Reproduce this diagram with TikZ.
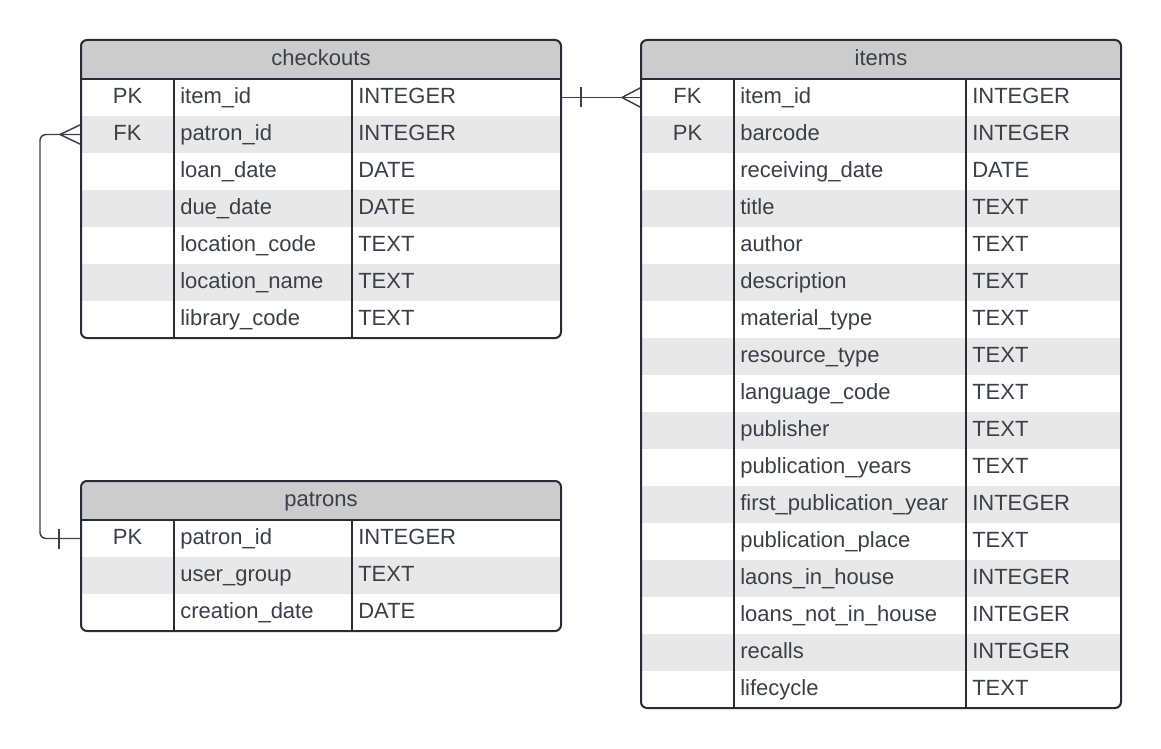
\documentclass[tikz,border=0pt]{standalone}
\usepackage{fontspec}
\setmainfont{Liberation Sans}
\usetikzlibrary{calc}

\definecolor{hdrgray}{RGB}{204,204,204}
\definecolor{rowgray}{RGB}{232,232,232}
\definecolor{edgedark}{RGB}{40,44,51}
\definecolor{txtdark}{RGB}{58,63,72}

\tikzset{
  rowbox/.style={rectangle, inner sep=0pt, outer sep=0pt, minimum width=360pt, minimum height=27.75pt},
  celltxt/.style={inner sep=0pt, text=txtdark, font=\fontsize{16.5}{19}\selectfont, text height=12pt, text depth=3.5pt},
  tblline/.style={draw=edgedark, line width=1.5pt},
  link/.style={draw=txtdark, line width=1.1pt},
}

% #1 name, #2 left, #3 top, #4 number of rows, #5 field column width, #6 title, #7 rows
\newcommand{\erdtable}[7]{%
  \begin{scope}
    \clip[rounded corners=4.5pt] (#2,#3) rectangle ++(480,{39+37*#4});
    \fill[hdrgray] (#2,#3) rectangle ++(480,39);
    \foreach \k/\f/\t [count=\i] in {#7} {
      \ifodd\i\relax \def\rowfill{white}\else \def\rowfill{rowgray}\fi
      \node[rowbox, fill=\rowfill] (#1-\i) at ({#2+240},{#3+39+37*\i-18.5}) {};
      \node[celltxt] at ({#2+46.5},{#3+39+37*\i-18.5}) {\k};
      \node[celltxt, anchor=west] at ({#2+99},{#3+39+37*\i-18.5}) {\f};
      \node[celltxt, anchor=west] at ({#2+99+#5},{#3+39+37*\i-18.5}) {\t};
    }
  \end{scope}
  \draw[tblline] (#2,{#3+39}) -- ++(480,0);
  \draw[tblline] ({#2+93},{#3+39}) -- ++(0,{37*#4});
  \draw[tblline] ({#2+93+#5},{#3+39}) -- ++(0,{37*#4});
  \draw[tblline, rounded corners=4.5pt] (#2,#3) rectangle ++(480,{39+37*#4});
  \node[celltxt] (#1-title) at ({#2+240},{#3+19.5}) {#6};
}

\begin{document}
\begin{tikzpicture}[x=0.75pt,y=0.75pt,yscale=-1]
\path[use as bounding box] (0,0) rectangle (1161,749);

% Tables
\erdtable{co}{81}{40}{7}{178}{checkouts}{PK/item\_id/INTEGER, FK/patron\_id/INTEGER,
  {}/loan\_date/DATE, {}/due\_date/DATE, {}/location\_code/TEXT,
  {}/location\_name/TEXT, {}/library\_code/TEXT}

\erdtable{pa}{81}{481}{3}{178}{patrons}{PK/patron\_id/INTEGER, {}/user\_group/TEXT,
  {}/creation\_date/DATE}

\erdtable{it}{641}{40}{17}{232}{items}{FK/item\_id/INTEGER, PK/barcode/INTEGER,
  {}/receiving\_date/DATE, {}/title/TEXT, {}/author/TEXT, {}/description/TEXT,
  {}/material\_type/TEXT, {}/resource\_type/TEXT, {}/language\_code/TEXT,
  {}/publisher/TEXT, {}/publication\_years/TEXT, {}/first\_publication\_year/INTEGER,
  {}/publication\_place/TEXT, {}/laons\_in\_house/INTEGER,
  {}/loans\_not\_in\_house/INTEGER, {}/recalls/INTEGER, {}/lifecycle/TEXT}

% checkouts -- items (one to many)
\draw[link] (co-1.east) -- (it-1.west);
\draw[link] ($(co-1.east)+(20,-10)$) -- ++(0,20);
\draw[link] ($(it-1.west)+(0,-10)$) -- ($(it-1.west)+(-19,0)$) -- ($(it-1.west)+(0,10)$);

% patrons -- checkouts (one to many)
\draw[link, rounded corners=4.5pt] (co-2.west) -- ++(-41,0) |- (pa-1.west);
\draw[link] ($(pa-1.west)+(-22,-10)$) -- ++(0,20);
\draw[link] ($(co-2.west)+(0,-10)$) -- ($(co-2.west)+(-21,0)$) -- ($(co-2.west)+(0,10)$);

\end{tikzpicture}
\end{document}
